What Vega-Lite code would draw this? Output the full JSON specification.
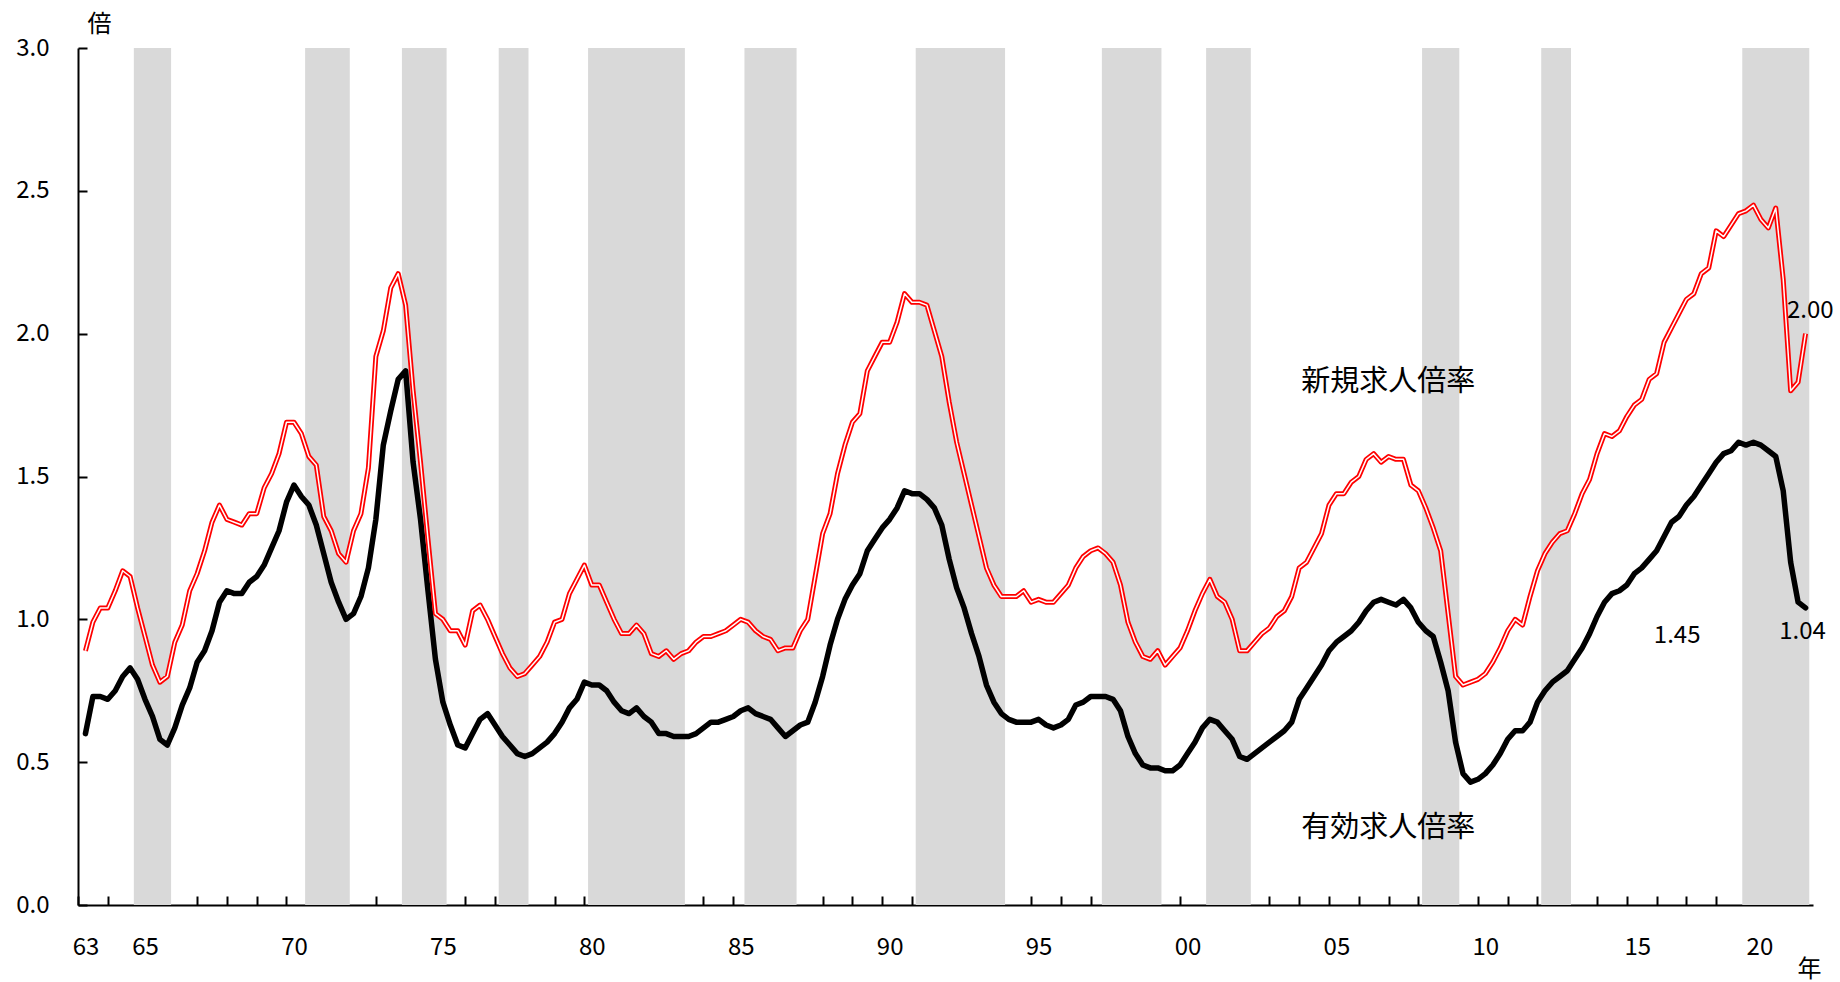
{
  "$schema": "https://vega.github.io/schema/vega-lite/v6.json",
  "width": 1735,
  "height": 857,
  "autosize": {"type": "none"},
  "padding": {"left": 78, "top": 48, "right": 27, "bottom": 77},
  "background": "white",
  "config": {
    "view": {"stroke": null},
    "font": "Noto Sans CJK JP",
    "axis": {
      "grid": false,
      "domainColor": "black",
      "domainWidth": 2,
      "tickColor": "black",
      "tickWidth": 2,
      "labelColor": "black",
      "labelFont": "Noto Sans CJK JP",
      "labelFontSize": 24,
      "titleFont": "Noto Sans CJK JP",
      "titleFontSize": 24,
      "titleFontWeight": "normal",
      "titleColor": "black"
    }
  },
  "resolve": {"scale": {"x": "shared", "y": "shared"}, "axis": {"x": "independent"}},
  "datasets": {
    "series": [
      {"date": 1963.00, "yuko": 0.60, "shinki": 0.89},
      {"date": 1963.25, "yuko": 0.73, "shinki": 0.99},
      {"date": 1963.50, "yuko": 0.73, "shinki": 1.04},
      {"date": 1963.75, "yuko": 0.72, "shinki": 1.04},
      {"date": 1964.00, "yuko": 0.75, "shinki": 1.10},
      {"date": 1964.25, "yuko": 0.80, "shinki": 1.17},
      {"date": 1964.50, "yuko": 0.83, "shinki": 1.15},
      {"date": 1964.75, "yuko": 0.79, "shinki": 1.04},
      {"date": 1965.00, "yuko": 0.72, "shinki": 0.94},
      {"date": 1965.25, "yuko": 0.66, "shinki": 0.84},
      {"date": 1965.50, "yuko": 0.58, "shinki": 0.78},
      {"date": 1965.75, "yuko": 0.56, "shinki": 0.80},
      {"date": 1966.00, "yuko": 0.62, "shinki": 0.92},
      {"date": 1966.25, "yuko": 0.70, "shinki": 0.98},
      {"date": 1966.50, "yuko": 0.76, "shinki": 1.10},
      {"date": 1966.75, "yuko": 0.85, "shinki": 1.16},
      {"date": 1967.00, "yuko": 0.89, "shinki": 1.24},
      {"date": 1967.25, "yuko": 0.96, "shinki": 1.34},
      {"date": 1967.50, "yuko": 1.06, "shinki": 1.40},
      {"date": 1967.75, "yuko": 1.10, "shinki": 1.35},
      {"date": 1968.00, "yuko": 1.09, "shinki": 1.34},
      {"date": 1968.25, "yuko": 1.09, "shinki": 1.33},
      {"date": 1968.50, "yuko": 1.13, "shinki": 1.37},
      {"date": 1968.75, "yuko": 1.15, "shinki": 1.37},
      {"date": 1969.00, "yuko": 1.19, "shinki": 1.46},
      {"date": 1969.25, "yuko": 1.25, "shinki": 1.51},
      {"date": 1969.50, "yuko": 1.31, "shinki": 1.58},
      {"date": 1969.75, "yuko": 1.41, "shinki": 1.69},
      {"date": 1970.00, "yuko": 1.47, "shinki": 1.69},
      {"date": 1970.25, "yuko": 1.43, "shinki": 1.65},
      {"date": 1970.50, "yuko": 1.40, "shinki": 1.57},
      {"date": 1970.75, "yuko": 1.33, "shinki": 1.54},
      {"date": 1971.00, "yuko": 1.23, "shinki": 1.36},
      {"date": 1971.25, "yuko": 1.13, "shinki": 1.31},
      {"date": 1971.50, "yuko": 1.06, "shinki": 1.23},
      {"date": 1971.75, "yuko": 1.00, "shinki": 1.20},
      {"date": 1972.00, "yuko": 1.02, "shinki": 1.31},
      {"date": 1972.25, "yuko": 1.08, "shinki": 1.37},
      {"date": 1972.50, "yuko": 1.18, "shinki": 1.53},
      {"date": 1972.75, "yuko": 1.35, "shinki": 1.92},
      {"date": 1973.00, "yuko": 1.61, "shinki": 2.01},
      {"date": 1973.25, "yuko": 1.73, "shinki": 2.16},
      {"date": 1973.50, "yuko": 1.84, "shinki": 2.21},
      {"date": 1973.75, "yuko": 1.87, "shinki": 2.10},
      {"date": 1974.00, "yuko": 1.55, "shinki": 1.80},
      {"date": 1974.25, "yuko": 1.35, "shinki": 1.55},
      {"date": 1974.50, "yuko": 1.10, "shinki": 1.28},
      {"date": 1974.75, "yuko": 0.86, "shinki": 1.02},
      {"date": 1975.00, "yuko": 0.71, "shinki": 1.00},
      {"date": 1975.25, "yuko": 0.63, "shinki": 0.96},
      {"date": 1975.50, "yuko": 0.56, "shinki": 0.96},
      {"date": 1975.75, "yuko": 0.55, "shinki": 0.91},
      {"date": 1976.00, "yuko": 0.60, "shinki": 1.03},
      {"date": 1976.25, "yuko": 0.65, "shinki": 1.05},
      {"date": 1976.50, "yuko": 0.67, "shinki": 1.00},
      {"date": 1976.75, "yuko": 0.63, "shinki": 0.94},
      {"date": 1977.00, "yuko": 0.59, "shinki": 0.88},
      {"date": 1977.25, "yuko": 0.56, "shinki": 0.83},
      {"date": 1977.50, "yuko": 0.53, "shinki": 0.80},
      {"date": 1977.75, "yuko": 0.52, "shinki": 0.81},
      {"date": 1978.00, "yuko": 0.53, "shinki": 0.84},
      {"date": 1978.25, "yuko": 0.55, "shinki": 0.87},
      {"date": 1978.50, "yuko": 0.57, "shinki": 0.92},
      {"date": 1978.75, "yuko": 0.60, "shinki": 0.99},
      {"date": 1979.00, "yuko": 0.64, "shinki": 1.00},
      {"date": 1979.25, "yuko": 0.69, "shinki": 1.09},
      {"date": 1979.50, "yuko": 0.72, "shinki": 1.14},
      {"date": 1979.75, "yuko": 0.78, "shinki": 1.19},
      {"date": 1980.00, "yuko": 0.77, "shinki": 1.12},
      {"date": 1980.25, "yuko": 0.77, "shinki": 1.12},
      {"date": 1980.50, "yuko": 0.75, "shinki": 1.06},
      {"date": 1980.75, "yuko": 0.71, "shinki": 1.00},
      {"date": 1981.00, "yuko": 0.68, "shinki": 0.95},
      {"date": 1981.25, "yuko": 0.67, "shinki": 0.95},
      {"date": 1981.50, "yuko": 0.69, "shinki": 0.98},
      {"date": 1981.75, "yuko": 0.66, "shinki": 0.95},
      {"date": 1982.00, "yuko": 0.64, "shinki": 0.88},
      {"date": 1982.25, "yuko": 0.60, "shinki": 0.87},
      {"date": 1982.50, "yuko": 0.60, "shinki": 0.89},
      {"date": 1982.75, "yuko": 0.59, "shinki": 0.86},
      {"date": 1983.00, "yuko": 0.59, "shinki": 0.88},
      {"date": 1983.25, "yuko": 0.59, "shinki": 0.89},
      {"date": 1983.50, "yuko": 0.60, "shinki": 0.92},
      {"date": 1983.75, "yuko": 0.62, "shinki": 0.94},
      {"date": 1984.00, "yuko": 0.64, "shinki": 0.94},
      {"date": 1984.25, "yuko": 0.64, "shinki": 0.95},
      {"date": 1984.50, "yuko": 0.65, "shinki": 0.96},
      {"date": 1984.75, "yuko": 0.66, "shinki": 0.98},
      {"date": 1985.00, "yuko": 0.68, "shinki": 1.00},
      {"date": 1985.25, "yuko": 0.69, "shinki": 0.99},
      {"date": 1985.50, "yuko": 0.67, "shinki": 0.96},
      {"date": 1985.75, "yuko": 0.66, "shinki": 0.94},
      {"date": 1986.00, "yuko": 0.65, "shinki": 0.93},
      {"date": 1986.25, "yuko": 0.62, "shinki": 0.89},
      {"date": 1986.50, "yuko": 0.59, "shinki": 0.90},
      {"date": 1986.75, "yuko": 0.61, "shinki": 0.90},
      {"date": 1987.00, "yuko": 0.63, "shinki": 0.96},
      {"date": 1987.25, "yuko": 0.64, "shinki": 1.00},
      {"date": 1987.50, "yuko": 0.71, "shinki": 1.15},
      {"date": 1987.75, "yuko": 0.80, "shinki": 1.30},
      {"date": 1988.00, "yuko": 0.91, "shinki": 1.37},
      {"date": 1988.25, "yuko": 1.00, "shinki": 1.51},
      {"date": 1988.50, "yuko": 1.07, "shinki": 1.61},
      {"date": 1988.75, "yuko": 1.12, "shinki": 1.69},
      {"date": 1989.00, "yuko": 1.16, "shinki": 1.72},
      {"date": 1989.25, "yuko": 1.24, "shinki": 1.87},
      {"date": 1989.50, "yuko": 1.28, "shinki": 1.92},
      {"date": 1989.75, "yuko": 1.32, "shinki": 1.97},
      {"date": 1990.00, "yuko": 1.35, "shinki": 1.97},
      {"date": 1990.25, "yuko": 1.39, "shinki": 2.04},
      {"date": 1990.50, "yuko": 1.45, "shinki": 2.14},
      {"date": 1990.75, "yuko": 1.44, "shinki": 2.11},
      {"date": 1991.00, "yuko": 1.44, "shinki": 2.11},
      {"date": 1991.25, "yuko": 1.42, "shinki": 2.10},
      {"date": 1991.50, "yuko": 1.39, "shinki": 2.01},
      {"date": 1991.75, "yuko": 1.33, "shinki": 1.92},
      {"date": 1992.00, "yuko": 1.21, "shinki": 1.76},
      {"date": 1992.25, "yuko": 1.11, "shinki": 1.62},
      {"date": 1992.50, "yuko": 1.04, "shinki": 1.51},
      {"date": 1992.75, "yuko": 0.95, "shinki": 1.40},
      {"date": 1993.00, "yuko": 0.87, "shinki": 1.29},
      {"date": 1993.25, "yuko": 0.77, "shinki": 1.18},
      {"date": 1993.50, "yuko": 0.71, "shinki": 1.12},
      {"date": 1993.75, "yuko": 0.67, "shinki": 1.08},
      {"date": 1994.00, "yuko": 0.65, "shinki": 1.08},
      {"date": 1994.25, "yuko": 0.64, "shinki": 1.08},
      {"date": 1994.50, "yuko": 0.64, "shinki": 1.10},
      {"date": 1994.75, "yuko": 0.64, "shinki": 1.06},
      {"date": 1995.00, "yuko": 0.65, "shinki": 1.07},
      {"date": 1995.25, "yuko": 0.63, "shinki": 1.06},
      {"date": 1995.50, "yuko": 0.62, "shinki": 1.06},
      {"date": 1995.75, "yuko": 0.63, "shinki": 1.09},
      {"date": 1996.00, "yuko": 0.65, "shinki": 1.12},
      {"date": 1996.25, "yuko": 0.70, "shinki": 1.18},
      {"date": 1996.50, "yuko": 0.71, "shinki": 1.22},
      {"date": 1996.75, "yuko": 0.73, "shinki": 1.24},
      {"date": 1997.00, "yuko": 0.73, "shinki": 1.25},
      {"date": 1997.25, "yuko": 0.73, "shinki": 1.23},
      {"date": 1997.50, "yuko": 0.72, "shinki": 1.20},
      {"date": 1997.75, "yuko": 0.68, "shinki": 1.12},
      {"date": 1998.00, "yuko": 0.59, "shinki": 0.99},
      {"date": 1998.25, "yuko": 0.53, "shinki": 0.92},
      {"date": 1998.50, "yuko": 0.49, "shinki": 0.87},
      {"date": 1998.75, "yuko": 0.48, "shinki": 0.86},
      {"date": 1999.00, "yuko": 0.48, "shinki": 0.89},
      {"date": 1999.25, "yuko": 0.47, "shinki": 0.84},
      {"date": 1999.50, "yuko": 0.47, "shinki": 0.87},
      {"date": 1999.75, "yuko": 0.49, "shinki": 0.90},
      {"date": 2000.00, "yuko": 0.53, "shinki": 0.96},
      {"date": 2000.25, "yuko": 0.57, "shinki": 1.03},
      {"date": 2000.50, "yuko": 0.62, "shinki": 1.09},
      {"date": 2000.75, "yuko": 0.65, "shinki": 1.14},
      {"date": 2001.00, "yuko": 0.64, "shinki": 1.08},
      {"date": 2001.25, "yuko": 0.61, "shinki": 1.06},
      {"date": 2001.50, "yuko": 0.58, "shinki": 1.00},
      {"date": 2001.75, "yuko": 0.52, "shinki": 0.89},
      {"date": 2002.00, "yuko": 0.51, "shinki": 0.89},
      {"date": 2002.25, "yuko": 0.53, "shinki": 0.92},
      {"date": 2002.50, "yuko": 0.55, "shinki": 0.95},
      {"date": 2002.75, "yuko": 0.57, "shinki": 0.97},
      {"date": 2003.00, "yuko": 0.59, "shinki": 1.01},
      {"date": 2003.25, "yuko": 0.61, "shinki": 1.03},
      {"date": 2003.50, "yuko": 0.64, "shinki": 1.08},
      {"date": 2003.75, "yuko": 0.72, "shinki": 1.18},
      {"date": 2004.00, "yuko": 0.76, "shinki": 1.20},
      {"date": 2004.25, "yuko": 0.80, "shinki": 1.25},
      {"date": 2004.50, "yuko": 0.84, "shinki": 1.30},
      {"date": 2004.75, "yuko": 0.89, "shinki": 1.40},
      {"date": 2005.00, "yuko": 0.92, "shinki": 1.44},
      {"date": 2005.25, "yuko": 0.94, "shinki": 1.44},
      {"date": 2005.50, "yuko": 0.96, "shinki": 1.48},
      {"date": 2005.75, "yuko": 0.99, "shinki": 1.50},
      {"date": 2006.00, "yuko": 1.03, "shinki": 1.56},
      {"date": 2006.25, "yuko": 1.06, "shinki": 1.58},
      {"date": 2006.50, "yuko": 1.07, "shinki": 1.55},
      {"date": 2006.75, "yuko": 1.06, "shinki": 1.57},
      {"date": 2007.00, "yuko": 1.05, "shinki": 1.56},
      {"date": 2007.25, "yuko": 1.07, "shinki": 1.56},
      {"date": 2007.50, "yuko": 1.04, "shinki": 1.47},
      {"date": 2007.75, "yuko": 0.99, "shinki": 1.45},
      {"date": 2008.00, "yuko": 0.96, "shinki": 1.39},
      {"date": 2008.25, "yuko": 0.94, "shinki": 1.32},
      {"date": 2008.50, "yuko": 0.85, "shinki": 1.24},
      {"date": 2008.75, "yuko": 0.75, "shinki": 1.02},
      {"date": 2009.00, "yuko": 0.57, "shinki": 0.80},
      {"date": 2009.25, "yuko": 0.46, "shinki": 0.77},
      {"date": 2009.50, "yuko": 0.43, "shinki": 0.78},
      {"date": 2009.75, "yuko": 0.44, "shinki": 0.79},
      {"date": 2010.00, "yuko": 0.46, "shinki": 0.81},
      {"date": 2010.25, "yuko": 0.49, "shinki": 0.85},
      {"date": 2010.50, "yuko": 0.53, "shinki": 0.90},
      {"date": 2010.75, "yuko": 0.58, "shinki": 0.96},
      {"date": 2011.00, "yuko": 0.61, "shinki": 1.00},
      {"date": 2011.25, "yuko": 0.61, "shinki": 0.98},
      {"date": 2011.50, "yuko": 0.64, "shinki": 1.08},
      {"date": 2011.75, "yuko": 0.71, "shinki": 1.17},
      {"date": 2012.00, "yuko": 0.75, "shinki": 1.23},
      {"date": 2012.25, "yuko": 0.78, "shinki": 1.27},
      {"date": 2012.50, "yuko": 0.80, "shinki": 1.30},
      {"date": 2012.75, "yuko": 0.82, "shinki": 1.31},
      {"date": 2013.00, "yuko": 0.86, "shinki": 1.37},
      {"date": 2013.25, "yuko": 0.90, "shinki": 1.44},
      {"date": 2013.50, "yuko": 0.95, "shinki": 1.49},
      {"date": 2013.75, "yuko": 1.01, "shinki": 1.58},
      {"date": 2014.00, "yuko": 1.06, "shinki": 1.65},
      {"date": 2014.25, "yuko": 1.09, "shinki": 1.64},
      {"date": 2014.50, "yuko": 1.10, "shinki": 1.66},
      {"date": 2014.75, "yuko": 1.12, "shinki": 1.71},
      {"date": 2015.00, "yuko": 1.16, "shinki": 1.75},
      {"date": 2015.25, "yuko": 1.18, "shinki": 1.77},
      {"date": 2015.50, "yuko": 1.21, "shinki": 1.84},
      {"date": 2015.75, "yuko": 1.24, "shinki": 1.86},
      {"date": 2016.00, "yuko": 1.29, "shinki": 1.97},
      {"date": 2016.25, "yuko": 1.34, "shinki": 2.02},
      {"date": 2016.50, "yuko": 1.36, "shinki": 2.07},
      {"date": 2016.75, "yuko": 1.40, "shinki": 2.12},
      {"date": 2017.00, "yuko": 1.43, "shinki": 2.14},
      {"date": 2017.25, "yuko": 1.47, "shinki": 2.21},
      {"date": 2017.50, "yuko": 1.51, "shinki": 2.23},
      {"date": 2017.75, "yuko": 1.55, "shinki": 2.36},
      {"date": 2018.00, "yuko": 1.58, "shinki": 2.34},
      {"date": 2018.25, "yuko": 1.59, "shinki": 2.38},
      {"date": 2018.50, "yuko": 1.62, "shinki": 2.42},
      {"date": 2018.75, "yuko": 1.61, "shinki": 2.43},
      {"date": 2019.00, "yuko": 1.62, "shinki": 2.45},
      {"date": 2019.25, "yuko": 1.61, "shinki": 2.40},
      {"date": 2019.50, "yuko": 1.59, "shinki": 2.37},
      {"date": 2019.75, "yuko": 1.57, "shinki": 2.44},
      {"date": 2020.00, "yuko": 1.45, "shinki": 2.19},
      {"date": 2020.25, "yuko": 1.20, "shinki": 1.80},
      {"date": 2020.50, "yuko": 1.06, "shinki": 1.83},
      {"date": 2020.75, "yuko": 1.04, "shinki": 2.00}
    ],
    "bands": [
      {"start": 1964.625, "end": 1965.875},
      {"start": 1970.375, "end": 1971.875},
      {"start": 1973.625, "end": 1975.125},
      {"start": 1976.875, "end": 1977.875},
      {"start": 1979.875, "end": 1983.125},
      {"start": 1985.125, "end": 1986.875},
      {"start": 1990.875, "end": 1993.875},
      {"start": 1997.125, "end": 1999.125},
      {"start": 2000.625, "end": 2002.125},
      {"start": 2007.875, "end": 2009.125},
      {"start": 2011.875, "end": 2012.875},
      {"start": 2018.625, "end": 2020.875}
    ],
    "notes": [
      {"x": 2006.74, "y": 1.83, "text": "新規求人倍率", "size": "big"},
      {"x": 2006.74, "y": 0.27, "text": "有効求人倍率", "size": "big"},
      {"x": 2020.91, "y": 2.08, "text": "2.00", "size": "small"},
      {"x": 2020.65, "y": 0.955, "text": "1.04", "size": "small"},
      {"x": 2016.44, "y": 0.942, "text": "1.45", "size": "small"}
    ]
  },
  "layer": [
    {
      "data": {"name": "bands"},
      "mark": {"type": "rect", "color": "#d9d9d9"},
      "encoding": {
        "x": {
          "field": "start",
          "type": "quantitative",
          "scale": {"domain": [1962.75, 2021.0], "nice": false, "zero": false},
          "axis": {
            "orient": "bottom",
            "title": "年",
            "titleX": 1731,
            "titleY": 64,
            "titleAlign": "center",
            "titleBaseline": "middle",
            "values": [1962.75, 1963.75, 1964.75, 1965.75, 1966.75, 1967.75, 1968.75, 1969.75, 1970.75, 1971.75, 1972.75, 1973.75, 1974.75, 1975.75, 1976.75, 1977.75, 1978.75, 1979.75, 1980.75, 1981.75, 1982.75, 1983.75, 1984.75, 1985.75, 1986.75, 1987.75, 1988.75, 1989.75, 1990.75, 1991.75, 1992.75, 1993.75, 1994.75, 1995.75, 1996.75, 1997.75, 1998.75, 1999.75, 2000.75, 2001.75, 2002.75, 2003.75, 2004.75, 2005.75, 2006.75, 2007.75, 2008.75, 2009.75, 2010.75, 2011.75, 2012.75, 2013.75, 2014.75, 2015.75, 2016.75, 2017.75, 2018.75, 2019.75, 2020.75],
            "labels": false,
            "tickSize": -9
          }
        },
        "x2": {"field": "end"},
        "y": {
          "datum": 0,
          "type": "quantitative",
          "scale": {"domain": [0, 3], "nice": false, "zero": true},
          "axis": {
            "title": "倍",
            "titleAngle": 0,
            "titleX": 21,
            "titleY": -24,
            "titleAlign": "center",
            "titleBaseline": "middle",
            "values": [0, 0.5, 1, 1.5, 2, 2.5, 3],
            "format": ".1f",
            "tickSize": -9,
            "labelPadding": 38,
            "labelBaseline": "middle",
            "labelOverlap": false,
            "labelFlush": false,
            "labelBound": false
          }
        },
        "y2": {"datum": 3}
      }
    },
    {
      "data": {"name": "series"},
      "mark": {"type": "line", "color": "black", "strokeWidth": 5.5, "strokeJoin": "round", "strokeCap": "round"},
      "encoding": {
        "x": {
          "field": "date",
          "type": "quantitative",
          "axis": {
            "orient": "bottom",
            "title": null,
            "domain": false,
            "ticks": false,
            "tickSize": 0,
            "values": [1963, 1965, 1970, 1975, 1980, 1985, 1990, 1995, 2000, 2005, 2010, 2015.1, 2019.2],
            "labelExpr": "format(floor(datum.value + 0.85) % 100, '02d')",
            "labelPadding": 42,
            "labelBaseline": "middle",
            "labelAlign": "center",
            "labelOverlap": false,
            "labelFlush": false,
            "labelBound": false
          }
        },
        "y": {"field": "yuko", "type": "quantitative"}
      }
    },
    {
      "data": {"name": "series"},
      "mark": {"type": "line", "color": "#ff0000", "strokeWidth": 5, "strokeJoin": "round", "strokeCap": "butt"},
      "encoding": {
        "x": {"field": "date", "type": "quantitative", "axis": null},
        "y": {"field": "shinki", "type": "quantitative"}
      }
    },
    {
      "data": {"name": "series"},
      "mark": {"type": "line", "color": "white", "strokeWidth": 1.5, "strokeJoin": "round", "strokeCap": "butt"},
      "encoding": {
        "x": {"field": "date", "type": "quantitative", "axis": null},
        "y": {"field": "shinki", "type": "quantitative"}
      }
    },
    {
      "data": {"name": "notes"},
      "mark": {"type": "text", "font": "Noto Sans CJK JP", "color": "black", "align": "center", "baseline": "middle"},
      "encoding": {
        "x": {"field": "x", "type": "quantitative", "axis": null},
        "y": {"field": "y", "type": "quantitative"},
        "text": {"field": "text"},
        "size": {"field": "size", "type": "nominal", "scale": {"domain": ["big", "small"], "range": [29, 24]}, "legend": null}
      }
    }
  ]
}
